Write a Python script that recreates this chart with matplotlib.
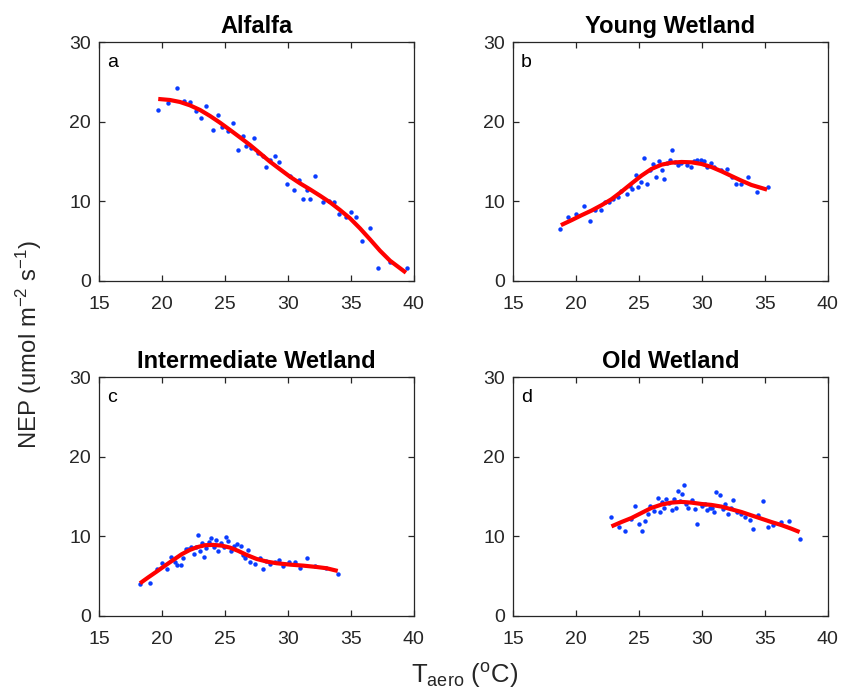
import matplotlib
matplotlib.use("Agg")
import matplotlib.pyplot as plt
import numpy as np

plt.rcParams['font.family'] = ['Liberation Sans', 'DejaVu Sans']
plt.rcParams['mathtext.fontset'] = 'custom'
plt.rcParams['mathtext.rm'] = 'Liberation Sans'
plt.rcParams['mathtext.it'] = 'Liberation Sans:italic'

# ---------------- data ----------------
titles = ["Alfalfa", "Young Wetland", "Intermediate Wetland", "Old Wetland"]
letters = ["a", "b", "c", "d"]

a_x = [19.64, 20.46, 21.18, 21.74, 22.21, 22.69, 23.09, 23.49, 24.02, 24.42, 24.79, 25.21, 25.61, 26.0,
       26.4, 26.7, 27.04, 27.33, 27.63, 28.0, 28.29, 28.6, 28.95, 29.3, 29.9, 30.2, 30.5, 30.9, 31.2,
       31.5, 31.8, 32.2, 32.8, 33.25, 33.65, 34.07, 34.6, 35.0, 35.4, 35.9, 36.5, 37.2, 38.1, 39.5]
a_y = [21.44, 22.37, 24.3, 22.6, 22.5, 21.3, 20.5, 22.0, 19.0, 20.8, 19.4, 18.8, 19.8, 16.45,
       18.2, 16.9, 16.7, 18.0, 16.1, 15.7, 14.3, 15.2, 15.7, 14.9, 12.2, 13.2, 11.4, 12.7, 10.3,
       11.4, 10.3, 13.2, 9.9, 10.0, 9.9, 8.4, 8.0, 8.7, 8.0, 5.0, 6.6, 1.6, 2.4, 1.6]
a_fx = [19.69, 20.62, 21.42, 22.21, 23.01, 23.81, 24.60, 25.40, 26.19, 26.99, 27.79, 28.58, 29.38,
        30.17, 30.97, 31.76, 32.56, 33.36, 34.15, 34.95, 35.74, 36.54, 37.33, 38.13, 39.40]
a_fy = [22.87, 22.74, 22.49, 22.07, 21.49, 20.73, 19.89, 18.97, 18.04, 17.08, 16.03, 14.98, 14.02,
        13.09, 12.25, 11.50, 10.70, 9.86, 8.90, 7.85, 6.59, 5.20, 3.78, 2.52, 1.01]

b_x = [18.74, 19.37, 19.95, 20.64, 21.1, 21.5, 21.97, 22.28, 22.65, 22.97, 23.3, 23.6, 24.03, 24.27,
       24.48, 24.75, 24.96, 25.2, 25.4, 25.65, 25.86, 26.15, 26.36, 26.58, 26.81, 27.03, 27.24, 27.45,
       27.66, 27.9, 28.1, 28.38, 28.8, 29.1, 29.4, 29.6, 29.9, 30.15, 30.4, 30.76, 31.0, 31.55, 31.98,
       32.38, 32.72, 33.15, 33.7, 34.4, 35.26]
b_y = [6.5, 8.0, 8.4, 9.4, 7.5, 8.95, 8.9, 9.9, 9.9, 10.3, 10.5, 11.25, 10.9, 11.9,
       11.5, 13.3, 11.75, 12.4, 15.5, 12.2, 13.9, 14.7, 13.1, 15.1, 13.9, 12.8, 14.8, 15.2,
       16.5, 14.9, 14.6, 14.8, 14.6, 14.35, 15.1, 15.2, 15.2, 15.0, 14.35, 14.85, 14.3, 13.9, 14.0,
       13.0, 12.2, 12.2, 13.05, 11.2, 11.75]
b_fx = [18.79, 19.64, 20.43, 21.23, 22.02, 22.81, 23.61, 24.40, 25.20, 25.99, 26.79, 27.58, 28.38,
        29.17, 29.97, 30.76, 31.56, 32.35, 33.15, 33.94, 35.19]
b_fy = [6.99, 7.62, 8.24, 8.83, 9.50, 10.25, 11.21, 12.22, 13.22, 14.06, 14.60, 14.85, 14.94,
        14.90, 14.69, 14.31, 13.77, 13.18, 12.59, 12.05, 11.46]

c_x = [18.24, 19.03, 19.56, 19.99, 20.38, 20.7, 21.0, 21.2, 21.47, 21.68, 21.86, 22.05, 22.26, 22.5,
       22.7, 22.85, 23.04, 23.17, 23.33, 23.5, 23.7, 23.9, 24.1, 24.26, 24.48, 24.68, 24.9, 25.1,
       25.24, 25.5, 25.7, 25.97, 26.27, 26.46, 26.6, 26.83, 27.0, 27.36, 27.78, 28.0, 28.3, 28.6,
       28.96, 29.27, 29.6, 30.07, 30.57, 31.0, 31.5, 32.2, 33.0, 34.0]
c_y = [3.95, 4.1, 5.9, 6.6, 5.9, 7.4, 6.8, 6.4, 6.4, 7.2, 8.4, 8.4, 8.7, 7.8,
       8.6, 10.1, 8.1, 9.2, 7.4, 8.5, 9.3, 9.8, 8.6, 9.5, 8.2, 9.2, 8.7, 9.9,
       9.4, 8.1, 8.8, 9.0, 8.8, 7.65, 7.2, 8.3, 6.8, 6.5, 7.2, 5.9, 6.9, 6.5,
       6.8, 7.0, 6.2, 6.8, 6.8, 6.0, 7.3, 6.3, 6.0, 5.25]
c_fx = [18.24, 18.90, 19.56, 20.23, 20.89, 21.55, 22.21, 22.75, 23.41, 24.07, 24.73, 25.40, 26.06,
        26.72, 27.52, 28.32, 29.11, 30.17, 31.23, 32.29, 33.09, 33.97]
c_fy = [4.08, 4.83, 5.55, 6.30, 7.02, 7.73, 8.28, 8.61, 8.87, 8.91, 8.82, 8.57, 8.15,
        7.65, 7.14, 6.81, 6.60, 6.43, 6.30, 6.13, 5.97, 5.63]

d_x = [22.76, 23.42, 23.87, 24.35, 24.7, 25.0, 25.25, 25.5, 25.68, 25.9, 26.2, 26.5, 26.66, 26.82,
       27.0, 27.16, 27.35, 27.66, 27.8, 27.98, 28.14, 28.3, 28.46, 28.6, 28.77, 28.93, 29.25, 29.44,
       29.6, 30.0, 30.23, 30.42, 30.63, 30.8, 30.95, 31.16, 31.42, 31.66, 31.87, 32.06, 32.3, 32.5,
       32.8, 33.15, 33.46, 33.83, 34.07, 34.47, 34.87, 35.3, 35.7, 36.27, 36.9, 37.83]
d_y = [12.4, 11.15, 10.6, 12.2, 13.85, 11.5, 10.7, 11.9, 12.85, 13.8, 13.2, 14.85, 13.1, 14.3,
       13.6, 14.7, 14.2, 13.3, 14.65, 13.55, 15.7, 14.4, 15.3, 16.5, 14.0, 13.6, 14.5, 13.4,
       11.5, 13.85, 14.06, 13.35, 13.5, 13.5, 13.0, 15.6, 15.2, 13.4, 14.0, 12.85, 13.5, 14.5,
       13.0, 12.8, 12.4, 12.1, 10.9, 12.7, 14.4, 11.2, 11.4, 11.8, 11.96, 9.7]
d_fx = [22.81, 23.61, 24.40, 25.20, 25.99, 26.79, 27.58, 28.38, 29.17, 29.97, 30.76, 31.56, 32.35,
        33.15, 33.94, 34.74, 35.53, 36.32, 37.12, 37.78]
d_fy = [11.24, 11.79, 12.29, 12.93, 13.56, 13.98, 14.23, 14.32, 14.23, 14.06, 13.94, 13.73, 13.39,
        13.05, 12.63, 12.21, 11.79, 11.41, 10.95, 10.53]

x_ticks = [15, 20, 25, 30, 35, 40]
y_ticks = [0, 10, 20, 30]

scatter_sets = [(a_x, a_y), (b_x, b_y), (c_x, c_y), (d_x, d_y)]
fit_sets = [(a_fx, a_fy), (b_fx, b_fy), (c_fx, c_fy), (d_fx, d_fy)]

# ---------------- figure ----------------
W, H = 844, 692
fig = plt.figure(figsize=(W / 100, H / 100), dpi=100)
axcol = '#262626'

lefts = [99.3, 513.3]
tops = [42.3, 377.3]
aw, ah = 314.2, 238.4

for i in range(4):
    r, c = divmod(i, 2)
    ax = fig.add_axes([lefts[c] / W, 1 - (tops[r] + ah) / H, aw / W, ah / H])
    sx, sy = scatter_sets[i]
    fx, fy = fit_sets[i]
    ax.plot(sx, sy, 'o', ms=3.2, color='#0a3cff', mec='none', zorder=2)
    ax.plot(fx, fy, '-', color='#ff0000', lw=3.0, zorder=3,
            solid_capstyle='butt', solid_joinstyle='round')
    ax.set_xlim(15, 40)
    ax.set_ylim(0, 30)
    ax.set_xticks(x_ticks)
    ax.set_yticks(y_ticks)
    ax.tick_params(direction='in', length=4, width=0.9, colors=axcol, labelsize=14,
                   top=True, right=True)
    ax.tick_params(axis='x', pad=11)
    ax.tick_params(axis='y', pad=6)
    for lab in ax.get_xticklabels() + ax.get_yticklabels():
        lab.set_color('#262626')
    for s in ax.spines.values():
        s.set_color(axcol)
        s.set_linewidth(0.9)
    ax.set_title(titles[i], fontsize=17, fontweight='bold', color='black', pad=6.5)
    ax.text(0.025, 0.915, letters[i], transform=ax.transAxes, fontsize=14,
            color='black', ha='left', va='center')

fig.text(465 / W, 1 - 676 / H, r'T$_{\mathrm{aero}}$ ($^{\mathrm{o}}$C)', fontsize=18.5,
         color='#262626', ha='center', va='center')
fig.text(29 / W, 1 - 345 / H, r'NEP (umol m$^{-2}$ s$^{-1}$)', fontsize=17.2,
         color='#262626', ha='center', va='center', rotation=90)

fig.savefig('out.png', dpi=100)
